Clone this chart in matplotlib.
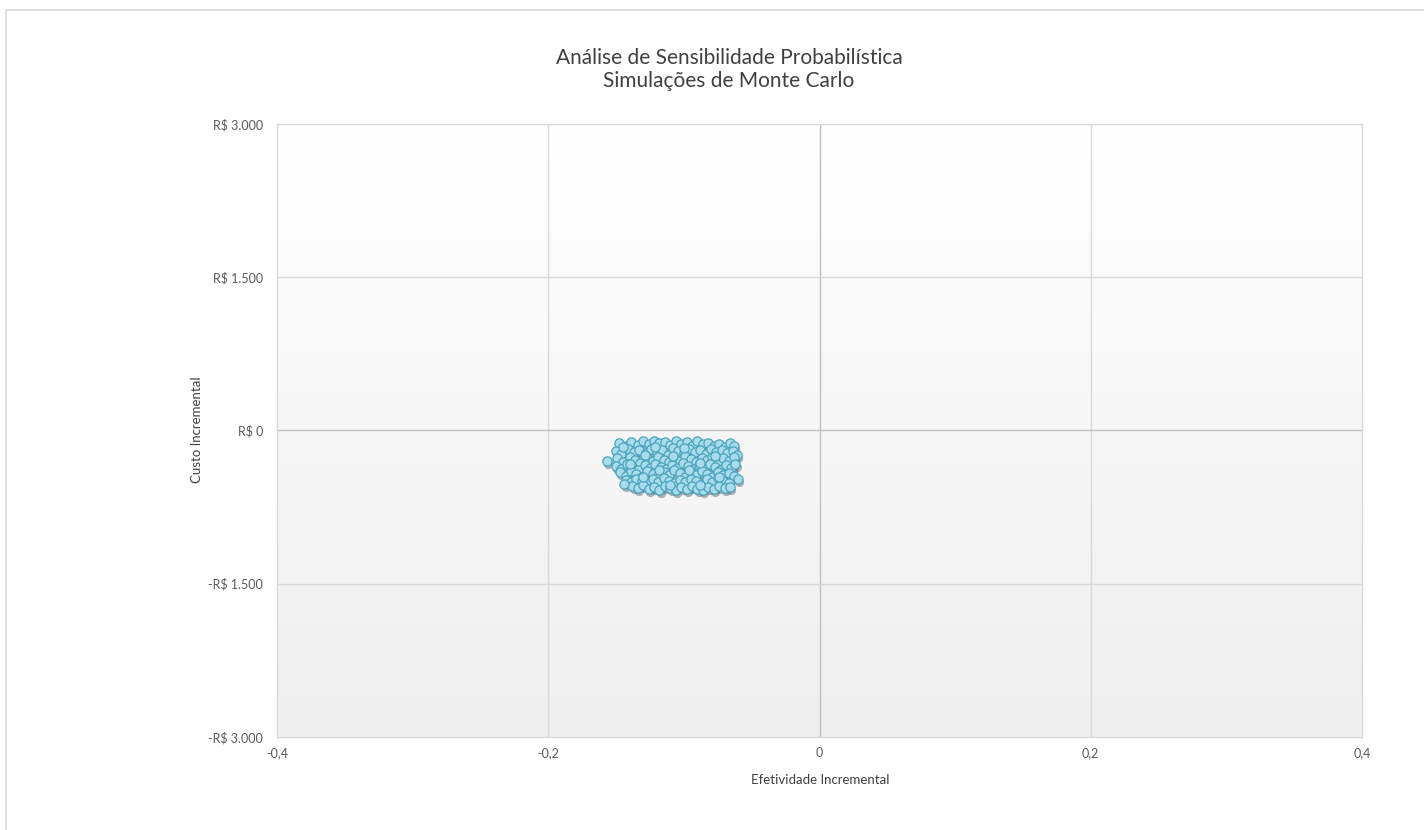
import numpy as np
import matplotlib.pyplot as plt
from matplotlib.patches import Rectangle
from matplotlib.colors import LinearSegmentedColormap

plt.rcParams['font.family'] = ['Lato', 'DejaVu Sans']

# dados (efetividade incremental, custo incremental em R$)
eff = [-0.148, -0.143, -0.139, -0.134, -0.130, -0.126, -0.122, -0.118, -0.114, -0.110, -0.106,
       -0.102, -0.098, -0.094, -0.090, -0.086, -0.082, -0.078, -0.074, -0.070, -0.066, -0.063,
       -0.150, -0.146, -0.141, -0.137, -0.133, -0.128, -0.124, -0.120, -0.116, -0.112, -0.108,
       -0.104, -0.100, -0.096, -0.092, -0.088, -0.084, -0.080, -0.076, -0.072, -0.068, -0.064, -0.061,
       -0.157, -0.149, -0.145, -0.140, -0.136, -0.132, -0.127, -0.123, -0.119, -0.115, -0.111,
       -0.107, -0.103, -0.099, -0.095, -0.091, -0.087, -0.083, -0.079, -0.075, -0.071, -0.067, -0.063,
       -0.150, -0.146, -0.142, -0.138, -0.134, -0.129, -0.125, -0.121, -0.117, -0.113, -0.109,
       -0.105, -0.101, -0.097, -0.093, -0.089, -0.085, -0.081, -0.077, -0.073, -0.069, -0.065, -0.062,
       -0.147, -0.143, -0.139, -0.135, -0.131, -0.127, -0.123, -0.119, -0.115, -0.111, -0.107,
       -0.103, -0.099, -0.095, -0.091, -0.087, -0.083, -0.079, -0.075, -0.071, -0.067, -0.063, -0.060,
       -0.143, -0.139, -0.135, -0.131, -0.127, -0.123, -0.119, -0.115, -0.111, -0.107,
       -0.103, -0.099, -0.095, -0.091, -0.087, -0.083, -0.079, -0.075, -0.071, -0.067,
       -0.138, -0.134, -0.130, -0.126, -0.122, -0.118, -0.114, -0.110, -0.106,
       -0.102, -0.098, -0.094, -0.090, -0.086, -0.082, -0.078, -0.074, -0.070,
       -0.145, -0.121, -0.100, -0.077, -0.129, -0.108, -0.088, -0.140, -0.118, -0.096,
       -0.074, -0.130, -0.110, -0.088, -0.066, -0.144]
cost = [-120, -150, -115, -140, -105, -135, -100, -125, -110, -145, -100,
        -130, -115, -150, -105, -135, -120, -155, -130, -160, -125, -150,
        -200, -230, -185, -215, -195, -225, -180, -210, -190, -235, -175,
        -205, -225, -185, -215, -195, -230, -180, -210, -190, -225, -200, -235,
        -295, -270, -305, -260, -290, -315, -265, -300, -255, -285, -310,
        -270, -295, -250, -280, -305, -265, -290, -255, -300, -270, -295, -260,
        -345, -375, -330, -360, -385, -340, -370, -325, -355, -380, -335,
        -365, -320, -350, -375, -340, -365, -325, -355, -385, -340, -370, -330,
        -410, -445, -400, -430, -455, -395, -425, -450, -405, -435, -390,
        -420, -455, -410, -440, -395, -425, -455, -405, -435, -415, -445, -470,
        -480, -505, -470, -495, -515, -475, -500, -465, -490, -515,
        -480, -505, -470, -495, -520, -475, -500, -465, -490, -510,
        -545, -565, -535, -575, -550, -580, -540, -565, -585,
        -550, -575, -540, -570, -585, -555, -575, -545, -565,
        -165, -160, -170, -245, -240, -250, -320, -330, -390, -385,
        -455, -460, -530, -530, -550, -520]

xticks = [-0.4, -0.2, 0, 0.2, 0.4]
xtick_labels = ['-0,4', '-0,2', '0', '0,2', '0,4']
yticks = [-3000, -1500, 0, 1500, 3000]
ytick_labels = ['-R$ 3.000', '-R$ 1.500', 'R$ 0', 'R$ 1.500', 'R$ 3.000']

fig = plt.figure(figsize=(14.24, 8.30), dpi=100)
fig.patches.append(Rectangle((6 / 1424, -0.05), 1.1, 1 - 10 / 830 + 0.05,
                             transform=fig.transFigure, fill=False,
                             edgecolor='#d9d9d9', linewidth=1.2))

ax = fig.add_axes([277 / 1424, 1 - 737 / 830, (1362 - 277) / 1424, (737 - 124) / 830])

# fundo com degradê vertical
bg = LinearSegmentedColormap.from_list('bg', ['#ffffff', '#efefef'])
ax.imshow(np.linspace(0, 1, 256).reshape(-1, 1), extent=[-0.4, 0.4, -3000, 3000],
          aspect='auto', cmap=bg, origin='upper', zorder=0)

for x in xticks[1:-1]:
    ax.axvline(x, color='#bfbfbf' if x == 0 else '#d9d9d9', lw=1, zorder=1)
for y in yticks[1:-1]:
    ax.axhline(y, color='#bfbfbf' if y == 0 else '#d9d9d9', lw=1, zorder=1)

# sombra + pontos
ax.scatter(np.array(eff) + 0.001, np.array(cost) - 30, s=44, color='#2f4a55',
           alpha=0.4, linewidths=0, zorder=2)
ax.scatter(eff, cost, s=44, facecolor='#a8dcec', edgecolor='#4aa3bd',
           linewidths=0.9, zorder=3)

ax.set_xlim(-0.4, 0.4)
ax.set_ylim(-3000, 3000)
ax.set_xticks(xticks)
ax.set_xticklabels(xtick_labels)
ax.set_yticks(yticks)
ax.set_yticklabels(ytick_labels)
ax.tick_params(length=0, labelsize=9, colors='#595959')
ax.tick_params(axis='x', pad=7)
ax.tick_params(axis='y', pad=10)
for s in ax.spines.values():
    s.set_color('#d9d9d9')
    s.set_linewidth(1)

fig.text(729 / 1424, 1 - 58 / 830, 'Análise de Sensibilidade Probabilística',
         ha='center', va='center', fontsize=15, color='#404040')
fig.text(729 / 1424, 1 - 81 / 830, 'Simulações de Monte Carlo',
         ha='center', va='center', fontsize=15, color='#404040')
fig.text(197 / 1424, 1 - 430 / 830, 'Custo Incremental', rotation=90,
         ha='center', va='center', fontsize=9.5, color='#404040')
fig.text(820 / 1424, 1 - 780 / 830, 'Efetividade Incremental',
         ha='center', va='center', fontsize=9.5, color='#404040')

fig.savefig('out.png', dpi=100)
